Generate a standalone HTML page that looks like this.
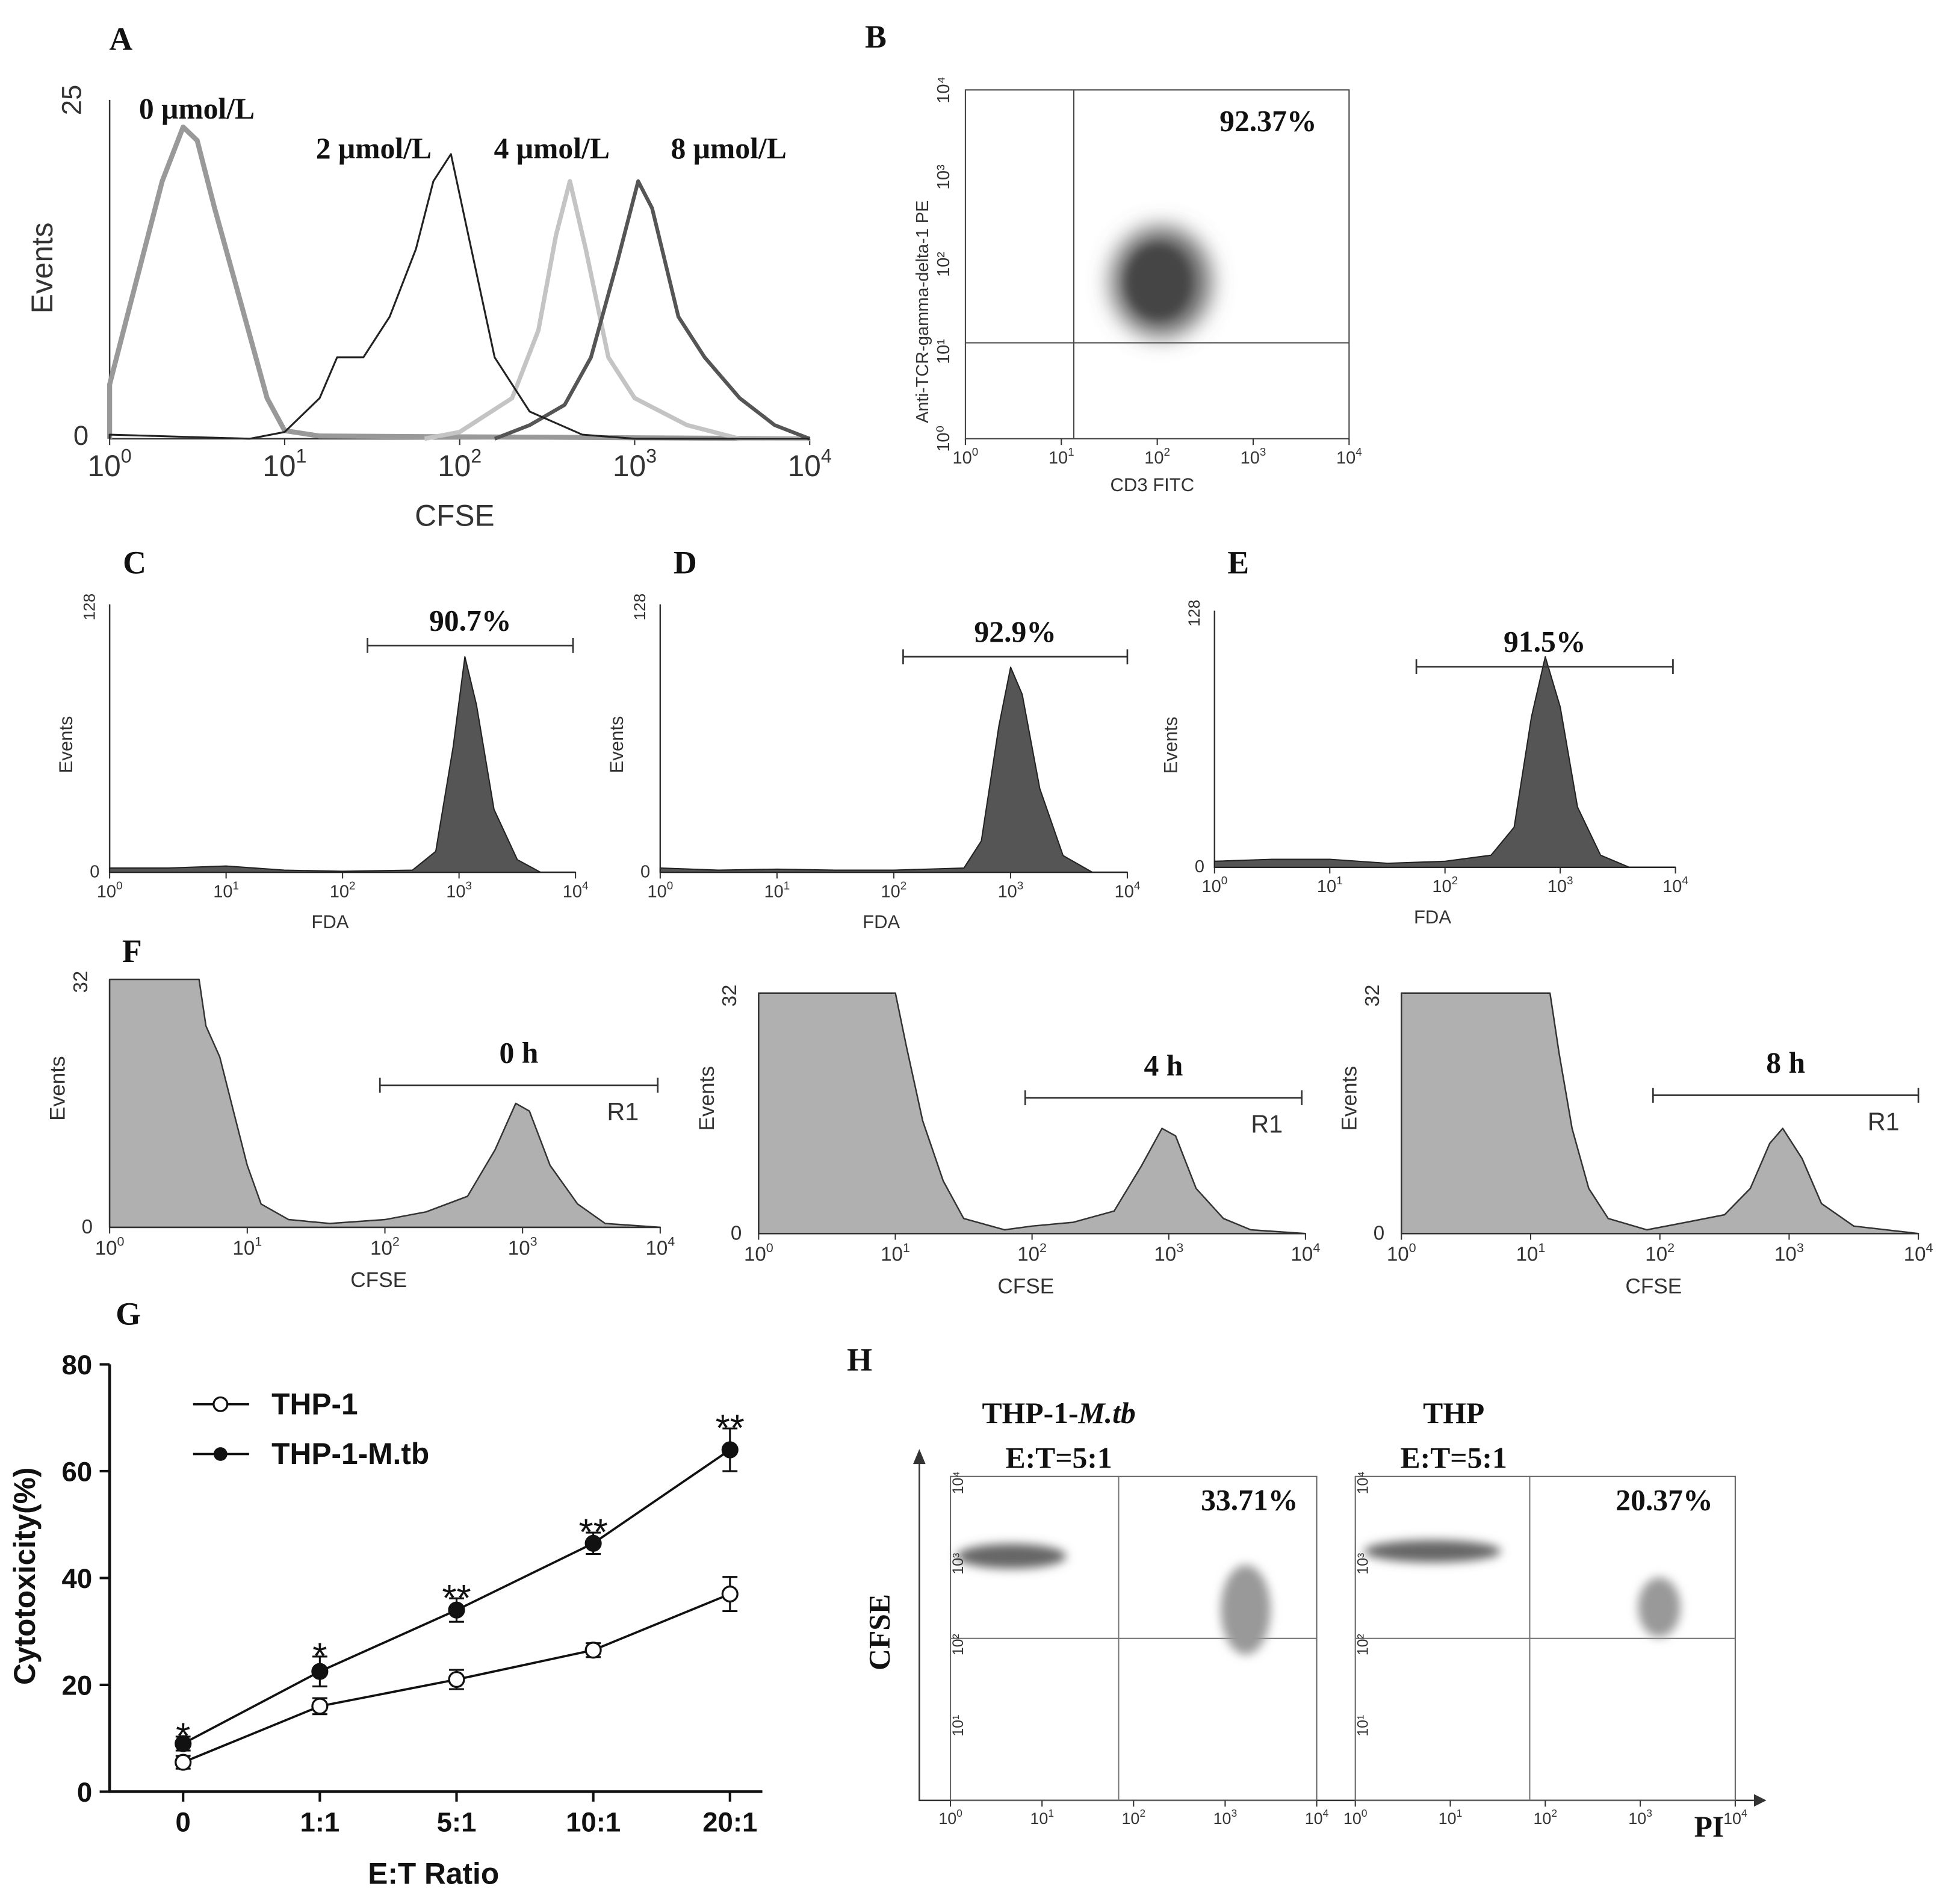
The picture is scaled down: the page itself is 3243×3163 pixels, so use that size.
<!DOCTYPE html>
<html><head><meta charset="utf-8"><style>
html,body{margin:0;padding:0;background:#fff}
svg{display:block}
.serif{font-family:"Liberation Serif",serif;font-weight:bold;fill:#111}
.sans{font-family:"Liberation Sans",sans-serif;fill:#333}
</style></head><body>
<svg id="fig" width="3243" height="3163" viewBox="0 0 1567 1528" xmlns="http://www.w3.org/2000/svg">
<defs><filter id="blur" x="-50%" y="-50%" width="200%" height="200%"><feGaussianBlur stdDeviation="9"/></filter>
<filter id="blur2" x="-50%" y="-50%" width="200%" height="200%"><feGaussianBlur stdDeviation="4"/></filter></defs>
<rect width="1567" height="1528" fill="#fff"/>
<g id="root"></g>
</svg>
<script>
// ---- Panel A data (CFSE histograms: decade, events) ----
const aSeries0 = [[0,4],[0.1,9],[0.2,14],[0.3,19],[0.42,23],[0.5,22],[0.6,17],[0.75,10],[0.9,3],[1.0,0.6],[1.2,0.2],[4,0]];
const aSeries2 = [[0,0.3],[0.8,0],[1,0.5],[1.2,3],[1.3,6],[1.45,6],[1.6,9],[1.75,14],[1.85,19],[1.95,21],[2.05,15],[2.2,6],[2.4,2],[2.7,0.3],[3,0],[4,0]];
const aSeries4 = [[1.8,0],[2,0.5],[2.3,3],[2.45,8],[2.55,15],[2.63,19],[2.72,14],[2.85,6],[3,3],[3.3,1],[3.6,0],[4,0]];
const aSeries8 = [[2.2,0],[2.4,1],[2.6,2.5],[2.75,6],[2.9,13],[3.02,19],[3.1,17],[3.25,9],[3.4,6],[3.6,3],[3.8,1],[4,0]];
// ---- Panels C/D/E FDA histograms ----
const cPeak = [[0,2],[0.5,2],[1,3],[1.5,1],[2,0.5],[2.6,1],[2.8,10],[2.95,60],[3.05,103],[3.15,80],[3.3,30],[3.5,6],[3.7,0],[4,0]];
const dPeak = [[0,2],[0.5,1],[1,1.5],[1.5,1],[2,1],[2.6,2],[2.75,15],[2.9,70],[3.0,98],[3.1,85],[3.25,40],[3.45,8],[3.7,0],[4,0]];
const ePeak = [[0,3],[0.5,4],[1,4],[1.5,2],[2,3],[2.4,6],[2.6,20],[2.75,75],[2.87,105],[3.0,80],[3.15,30],[3.35,6],[3.6,0],[4,0]];
// ---- Panel F CFSE histograms ----
const f0 = [[0,32],[0.65,32],[0.7,26],[0.8,22],[0.9,15],[1.0,8],[1.1,3],[1.3,1],[1.6,0.5],[2,1],[2.3,2],[2.6,4],[2.8,10],[2.95,16],[3.05,15],[3.2,8],[3.4,3],[3.6,0.5],[4,0]];
const f4 = [[0,32],[1.0,32],[1.08,25],[1.2,15],[1.35,7],[1.5,2],[1.8,0.5],[2,1],[2.3,1.5],[2.6,3],[2.8,9],[2.95,14],[3.05,13],[3.2,6],[3.4,2],[3.6,0.5],[4,0]];
const f8 = [[0,32],[1.15,32],[1.22,24],[1.32,14],[1.45,6],[1.6,2],[1.9,0.5],[2.2,1.5],[2.5,2.5],[2.7,6],[2.85,12],[2.95,14],[3.1,10],[3.25,4],[3.5,1],[4,0]];
// ---- Panel G cytotoxicity ----
const gCategories = ["0","1:1","5:1","10:1","20:1"];
const gThp = [5.5,16,21,26.5,37];
const gThpErr = [1.2,1.5,1.8,1.3,3.2];
const gMtb = [9,22.5,34,46.5,64];
const gMtbErr = [1.3,2.8,2.2,2,4];
const gSig = ["*","*","**","**","**"];
const gTicks = [0,20,40,60,80];

const NS="http://www.w3.org/2000/svg";
const root=document.getElementById('root');
function el(tag,attrs,parent,txt){const e=document.createElementNS(NS,tag);for(const k in attrs)e.setAttribute(k,attrs[k]);if(txt!==undefined)e.textContent=txt;(parent||root).appendChild(e);return e;}
function text(x,y,s,cls,size,name,extra){const t=el('text',Object.assign({x:x,y:y,class:cls,'font-size':size,'text-anchor':'middle'},extra||{}),root,s);


return t;}
function decTicks(x0,x1,y,size,name){for(let i=0;i<=4;i++){const x=x0+(x1-x0)*i/4;el('line',{x1:x,y1:y,x2:x,y2:y+5,stroke:'#333','stroke-width':1});
const t=el('text',{x:x,y:y+size+6,class:'sans','font-size':size,'text-anchor':'middle'},root);


t.textContent='10';el('tspan',{dy:-size*0.45,'font-size':size*0.65},t,String(i));}}
function hist(p,data,ymax,style,name){const sx=d=>p.x0+(p.x1-p.x0)*d/4, sy=v=>p.yb-(p.yb-p.yt)*v/ymax;
let d='M'+sx(data[0][0])+','+p.yb;data.forEach(q=>{d+=' L'+sx(q[0]).toFixed(1)+','+sy(q[1]).toFixed(1);});
if(style.fill&&style.fill!=='none')d+=' L'+sx(data[data.length-1][0])+','+p.yb+' Z';
const e=el('path',Object.assign({d:d,'stroke-linejoin':'round'},style));

}
function axes(p,name){const e=el('path',{d:`M${p.x0},${p.yt} L${p.x0},${p.yb} L${p.x1},${p.yb}`,fill:'none',stroke:'#333','stroke-width':1.2});

}

// ===== Panel A =====
text(97,40,'A','serif',26,'panel-a-label');
const pA={x0:88,x1:650,yt:80,yb:352};
axes(pA,'panel-a');decTicks(88,650,352,24,'panel-a-x');
text(65,357,'0','sans',22,'panel-a-y-zero');
text(65,80,'25','sans',22,'panel-a-y-max',{transform:'rotate(-90 65 80)'});
text(42,215,'Events','sans',24,'panel-a-y-title',{transform:'rotate(-90 42 215)'});
text(365,422,'CFSE','sans',24,'panel-a-x-title');
hist(pA,aSeries0,25,{fill:'none',stroke:'#999','stroke-width':4},'hist-0-umol');
hist(pA,aSeries4,25,{fill:'none',stroke:'#c4c4c4','stroke-width':3.5},'hist-4-umol');
hist(pA,aSeries8,25,{fill:'none',stroke:'#555','stroke-width':3},'hist-8-umol');
hist(pA,aSeries2,25,{fill:'none',stroke:'#222','stroke-width':1.5},'hist-2-umol');
text(158,95,'0 μmol/L','serif',24,'label-0-umol');
text(300,127,'2 μmol/L','serif',24,'label-2-umol');
text(443,127,'4 μmol/L','serif',24,'label-4-umol');
text(585,127,'8 μmol/L','serif',24,'label-8-umol');

// ===== Panel B =====
text(703,38,'B','serif',26,'panel-b-label');
el('rect',{x:775,y:72,width:308,height:280,fill:'none',stroke:'#444','stroke-width':1});
el('line',{x1:862,y1:72,x2:862,y2:352,stroke:'#444'});el('line',{x1:775,y1:275,x2:1083,y2:275,stroke:'#444'});
el('ellipse',{cx:932,cy:226,rx:40,ry:44,fill:'#666',filter:'url(#blur)'});
el('ellipse',{cx:930,cy:226,rx:26,ry:30,fill:'#444',filter:'url(#blur2)'});
text(1018,105,'92.37%','serif',24,'panel-b-percent');
decTicks(775,1083,352,14,'panel-b-x');
text(925,394,'CD3 FITC','sans',15,'panel-b-x-title');
text(745,250,'Anti-TCR-gamma-delta-1 PE','sans',14,'panel-b-y-title',{transform:'rotate(-90 745 250)'});
for(let i=0;i<=4;i++){text(762,352-70*i,'10'+['⁰','¹','²','³','⁴'][i],'sans',14,'panel-b-y-tick-'+i,{transform:`rotate(-90 762 ${352-70*i})`});}

// ===== Panels C D E =====
const cde=[{l:'C',lx:108,ly:460,p:{x0:88,x1:462,yt:485,yb:700},d:cPeak,g:[295,460,518],pc:'90.7%'},
{l:'D',lx:550,ly:460,p:{x0:530,x1:905,yt:485,yb:700},d:dPeak,g:[725,905,527],pc:'92.9%'},
{l:'E',lx:994,ly:460,p:{x0:975,x1:1345,yt:490,yb:696},d:ePeak,g:[1137,1343,535],pc:'91.5%'}];
cde.forEach(c=>{const n='panel-'+c.l.toLowerCase();text(c.lx,c.ly,c.l,'serif',26,n+'-label');axes(c.p,n);decTicks(c.p.x0,c.p.x1,c.p.yb,14,n+'-x');
hist(c.p,c.d,128,{fill:'#555',stroke:'#222','stroke-width':1},n+'-histogram');
text(c.p.x0-12,c.p.yb+4,'0','sans',14,n+'-y-zero');
text(c.p.x0-12,c.p.yt+2,'128','sans',13,n+'-y-max',{transform:`rotate(-90 ${c.p.x0-12} ${c.p.yt+2})`});
const my=(c.p.yt+c.p.yb)/2+5;text(c.p.x0-30,my,'Events','sans',15,n+'-y-title',{transform:`rotate(-90 ${c.p.x0-30} ${my})`});
text((c.p.x0+c.p.x1)/2-10,c.p.yb+45,'FDA','sans',15,n+'-x-title');
el('path',{d:`M${c.g[0]},${c.g[2]-6}V${c.g[2]+6}M${c.g[0]},${c.g[2]}H${c.g[1]}M${c.g[1]},${c.g[2]-6}V${c.g[2]+6}`,stroke:'#333',fill:'none','stroke-width':1.3});
text((c.g[0]+c.g[1])/2,c.g[2]-12,c.pc,'serif',24,n+'-percent');});

// ===== Panel F =====
text(106,772,'F','serif',26,'panel-f-label');
const fs=[{p:{x0:88,x1:530,yt:786,yb:985},d:f0,g:[305,528,871],t:'0 h'},
{p:{x0:609,x1:1048,yt:797,yb:990},d:f4,g:[823,1045,881],t:'4 h'},
{p:{x0:1125,x1:1540,yt:797,yb:990},d:f8,g:[1327,1540,879],t:'8 h'}];
fs.forEach((f,i)=>{const n='panel-f'+(i+1);axes(f.p,n);decTicks(f.p.x0,f.p.x1,f.p.yb,16,n+'-x');
hist(f.p,f.d,32,{fill:'#b0b0b0',stroke:'#333','stroke-width':1.2},n+'-histogram');
text(f.p.x0-18,f.p.yb+5,'0','sans',16,n+'-y-zero');
text(f.p.x0-18,f.p.yt+2,'32','sans',16,n+'-y-max',{transform:`rotate(-90 ${f.p.x0-18} ${f.p.yt+2})`});
const my=(f.p.yt+f.p.yb)/2-12;text(f.p.x0-36,my,'Events','sans',17,n+'-y-title',{transform:`rotate(-90 ${f.p.x0-36} ${my})`});
text((f.p.x0+f.p.x1)/2-5,f.p.yb+48,'CFSE','sans',17,n+'-x-title');
el('path',{d:`M${f.g[0]},${f.g[2]-6}V${f.g[2]+6}M${f.g[0]},${f.g[2]}H${f.g[1]}M${f.g[1]},${f.g[2]-6}V${f.g[2]+6}`,stroke:'#333',fill:'none','stroke-width':1.3});
text((f.g[0]+f.g[1])/2,f.g[2]-18,f.t,'serif',24,n+'-time-label');
text(f.g[1]-28,f.g[2]+28,'R1','sans',20,n+'-gate-label');});

// ===== Panel G =====
text(103,1063,'G','serif',26,'panel-g-label');
const gx=i=>147+i*109.75, gy=v=>1438-(1438-1095)*v/80;
el('path',{d:'M88,1095 V1438 H612',fill:'none',stroke:'#111','stroke-width':2.2});
gTicks.forEach(t=>{el('line',{x1:80,y1:gy(t),x2:88,y2:gy(t),stroke:'#111','stroke-width':2});
const e=text(74,gy(t)+8,String(t),'sans',22,'panel-g-y-tick-'+t,{'text-anchor':'end','font-weight':'bold'});e.style.fill='#111';});
gCategories.forEach((c,i)=>{el('line',{x1:gx(i),y1:1438,x2:gx(i),y2:1446,stroke:'#111','stroke-width':2});
const e=text(gx(i),1470,c,'sans',22,'panel-g-x-tick-'+i,{'font-weight':'bold'});e.style.fill='#111';});
let e1=text(348,1512,'E:T Ratio','sans',24,'panel-g-x-title',{'font-weight':'bold'});e1.style.fill='#111';
e1=text(28,1265,'Cytotoxicity(%)','sans',24,'panel-g-y-title',{'font-weight':'bold',transform:'rotate(-90 28 1265)'});e1.style.fill='#111';
function series(vals,errs,filled,name){const d=vals.map((v,i)=>(i?'L':'M')+gx(i)+','+gy(v)).join(' ');
const p=el('path',{d:d,fill:'none',stroke:'#111','stroke-width':1.8});


vals.forEach((v,i)=>{const x=gx(i);el('path',{d:`M${x},${gy(v+errs[i])}V${gy(v-errs[i])}M${x-6},${gy(v+errs[i])}H${x+6}M${x-6},${gy(v-errs[i])}H${x+6}`,stroke:'#111','stroke-width':1.5,fill:'none'});
const c=el('circle',{cx:x,cy:gy(v),r:6,fill:filled?'#111':'#fff',stroke:'#111','stroke-width':1.6});

});}
series(gThp,gThpErr,false,'thp1');series(gMtb,gMtbErr,true,'thp1-mtb');
gSig.forEach((s,i)=>{const t=text(gx(i),gy(gMtb[i]+gMtbErr[i])+10,s,'sans',30,'significance-'+i);t.style.fill='#111';});
el('line',{x1:155,y1:1127,x2:200,y2:1127,stroke:'#111','stroke-width':1.8});el('circle',{cx:177,cy:1127,r:5.5,fill:'#fff',stroke:'#111','stroke-width':1.6});
el('line',{x1:155,y1:1167,x2:200,y2:1167,stroke:'#111','stroke-width':1.8});el('circle',{cx:177,cy:1167,r:5.5,fill:'#111'});
e1=text(218,1135,'THP-1','sans',24,'legend-thp1',{'text-anchor':'start','font-weight':'bold'});e1.style.fill='#111';
e1=text(218,1175,'THP-1-M.tb','sans',24,'legend-thp1-mtb',{'text-anchor':'start','font-weight':'bold'});e1.style.fill='#111';

// ===== Panel H =====
text(690,1100,'H','serif',26,'panel-h-label');
el('path',{d:'M738,1172 V1445 H1408',fill:'none',stroke:'#333','stroke-width':1.2});
el('path',{d:'M1408,1440 L1418,1445 L1408,1450Z',fill:'#333'});el('path',{d:'M733,1175 L738,1163 L743,1175Z',fill:'#333'});
text(714,1310,'CFSE','serif',24,'panel-h-y-title',{transform:'rotate(-90 714 1310)'});
text(1372,1474,'PI','serif',24,'panel-h-x-title');
const hs=[{x0:763,x1:1057,qx:898,t1:'THP-1-',t1i:'M.tb',tx:850,pc:'33.71%',pcx:1003,cl:[812,1249,44,10],cr:[1000,1292,20,36]},
{x0:1088,x1:1393,qx:1228,t1:'THP',t1i:'',tx:1167,pc:'20.37%',pcx:1336,cl:[1150,1245,55,9],cr:[1332,1290,17,24]}];
hs.forEach((h,i)=>{const n='panel-h'+(i+1);el('rect',{x:h.x0,y:1185,width:h.x1-h.x0,height:260,fill:'none',stroke:'#666'});
el('line',{x1:h.qx,y1:1185,x2:h.qx,y2:1445,stroke:'#777'});el('line',{x1:h.x0,y1:1315,x2:h.x1,y2:1315,stroke:'#777'});
el('ellipse',{cx:h.cl[0],cy:h.cl[1],rx:h.cl[2],ry:h.cl[3],fill:'#666',filter:'url(#blur2)'});
el('ellipse',{cx:h.cr[0],cy:h.cr[1],rx:h.cr[2],ry:h.cr[3],fill:'#999',filter:'url(#blur2)'});
const t=text(h.tx,1142,h.t1,'serif',24,n+'-title');if(h.t1i)el('tspan',{'font-style':'italic'},t,h.t1i);
text(h.tx,1178,'E:T=5:1','serif',24,n+'-ratio');
text(h.pcx,1212,h.pc,'serif',24,n+'-percent');
decTicks(h.x0,h.x1,1445,13,n+'-x');
for(let k=1;k<=4;k++){text(h.x0+10,1445-65*k+5,'10'+['¹','²','³','⁴'][k-1],'sans',12,n+'-y-tick-'+k,{transform:`rotate(-90 ${h.x0+10} ${1445-65*k+5})`});}});
</script>
</body></html>
